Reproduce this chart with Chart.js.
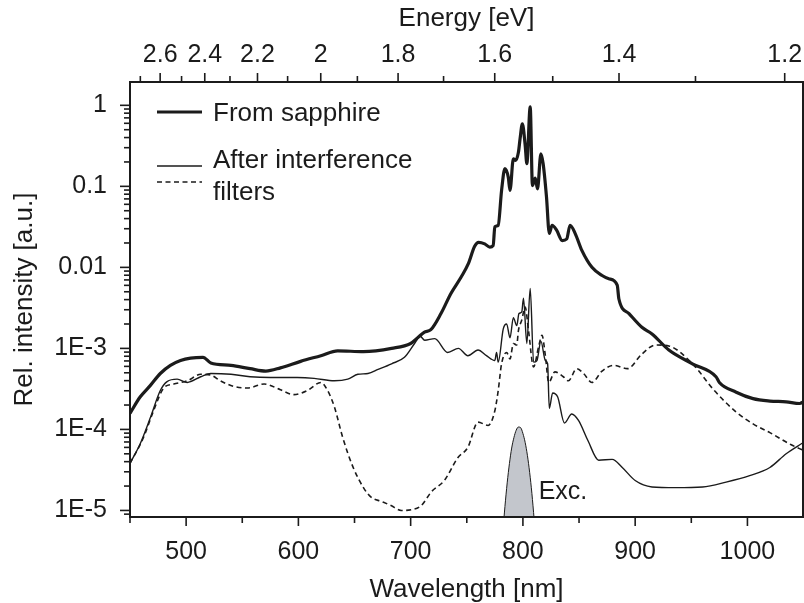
<!DOCTYPE html>
<html>
<head>
<meta charset="utf-8">
<script src="https://cdn.jsdelivr.net/npm/chart.js@4.4.1/dist/chart.umd.min.js"></script>
<style>
  html, body { margin: 0; padding: 0; background: #fff; }
  #wrap { width: 804px; height: 603px; }
</style>
</head>
<body>
<div id="wrap"><canvas id="c" width="804" height="603"></canvas></div>
<script>
const FONT = "'Liberation Sans', Arial, sans-serif";
const INK = '#1b1b1b';
const HC = 1239.84; // eV * nm

// axis ticks
const wlMajor = [500, 600, 700, 800, 900, 1000];
const wlMinor = [450, 550, 650, 750, 850, 950, 1050];
const evMajor = [2.6, 2.4, 2.2, 2, 1.8, 1.6, 1.4, 1.2];
const evMinor = [2.7, 2.5, 2.3, 2.1, 1.9, 1.7, 1.5, 1.3];
const decades = [1e-5, 1e-4, 1e-3, 0.01, 0.1, 1];
const decadeLabels = ['1E-5', '1E-4', '1E-3', '0.01', '0.1', '1'];
const yMin = 8.3e-6, yMax = 1.94;
const wlMin = 450, wlMax = 1049.5;

// white light from sapphire
const sapphireWl = [450, 459, 468, 477, 486, 495, 504, 515, 522, 540, 557, 571, 584, 602, 620, 635, 658, 683,
  700, 707, 712, 718, 727, 736, 745, 751.5, 757, 760.5, 766, 770.5, 773.5, 775, 778, 781, 784, 787, 788.5,
  791.5, 793.5, 796, 797.5, 799.5, 802, 803.5, 806.5, 808.5, 811, 813, 816, 818, 821, 823.5, 826, 830, 835,
  839, 842, 846.5, 852.5, 861.5, 870.5, 876.5, 884, 885.5, 894.5, 906, 915, 930, 951, 972, 975, 990, 1005,
  1020, 1034.5, 1046.5, 1050];
const sapphireI = [1.58e-4, 2.51e-4, 3.47e-4, 4.90e-4, 6.17e-4, 7.08e-4, 7.59e-4, 7.76e-4, 6.61e-4, 6.17e-4,
  5.62e-4, 5.25e-4, 5.75e-4, 6.92e-4, 8.13e-4, 9.33e-4, 9.12e-4, 1.0e-3,
  1.15e-3, 1.38e-3, 1.58e-3, 1.70e-3, 2.69e-3, 4.79e-3, 7.59e-3, 1.12e-2, 1.82e-2, 2.04e-2, 1.95e-2, 1.78e-2,
  1.86e-2, 3.16e-2, 3.31e-2, 8.91e-2, 0.166, 0.129, 8.91e-2,
  0.219, 0.209, 0.263, 0.389, 0.589, 0.324, 0.191, 0.955, 0.102, 0.126, 9.33e-2, 0.251, 0.191, 7.41e-2,
  2.63e-2, 3.31e-2, 2.88e-2, 2.14e-2,
  2.24e-2, 3.31e-2, 2.63e-2, 1.62e-2, 1.0e-2, 7.94e-3, 7.24e-3, 6.03e-3, 4.07e-3, 2.69e-3, 1.82e-3, 1.51e-3,
  9.55e-4, 6.46e-4, 4.47e-4, 3.80e-4, 2.88e-4, 2.40e-4,
  2.24e-4, 2.19e-4, 2.09e-4, 2.19e-4];

// after interference filters, solid
const filterWl = [450, 459, 468, 477, 483, 492, 501, 513, 522, 540, 557, 575, 599, 614, 632, 644, 653, 662,
  671, 683, 694.5, 703.5, 708.5, 712.5, 721.5, 733, 742.5, 751, 760, 767.5, 775, 776.5, 778, 782.5, 785.5,
  788.5, 791.5, 794.5, 796.5, 799, 800.5, 803.5, 806.5, 809.5, 812.5, 816, 820, 822, 823.5, 826.5, 831, 837,
  843.5, 849.5, 858, 867.5, 879.5, 888.5, 900, 915, 936, 960, 981, 1002, 1020, 1034.5, 1050];
const filterI = [3.80e-5, 6.61e-5, 1.38e-4, 3.02e-4, 3.89e-4, 4.17e-4, 3.80e-4, 4.47e-4, 4.90e-4, 4.79e-4,
  4.47e-4, 4.37e-4, 4.37e-4, 4.27e-4, 3.98e-4, 4.17e-4, 4.79e-4, 4.90e-4,
  5.50e-4, 6.46e-4, 7.76e-4, 1.15e-3, 1.41e-3, 1.26e-3, 1.32e-3, 8.91e-4, 1.0e-3, 8.13e-4, 9.55e-4, 8.13e-4,
  7.08e-4, 8.91e-4, 6.76e-4, 1.74e-3, 2.00e-3,
  1.35e-3, 2.40e-3, 1.91e-3, 2.69e-3, 2.82e-3, 4.17e-3, 1.15e-3, 5.50e-3, 6.76e-4, 7.08e-4, 1.23e-3, 7.08e-4,
  6.46e-4, 1.82e-4, 2.82e-4, 2.51e-4, 1.20e-4,
  1.55e-4, 1.29e-4, 7.24e-5, 4.17e-5, 4.27e-5, 3.39e-5, 2.34e-5, 1.95e-5, 1.91e-5, 1.95e-5, 2.24e-5, 2.69e-5,
  3.39e-5, 5.01e-5, 6.92e-5];

// after interference filters, dashed
const dashWl = [450, 462, 471, 480, 489, 501, 513, 522, 530.5, 542.5, 554.5, 569.5, 584, 596, 608, 620, 626,
  632, 639.5, 648.5, 658.5, 665, 674, 682.5, 691.5, 700.5, 709.5, 718.5, 730, 742, 751, 760, 769, 775, 778,
  781, 785.5, 788.5, 791.5, 794.5, 796, 799, 802, 805, 809.5, 814, 817, 820, 823, 828.5, 836, 840.5, 848, 854,
  861.5, 870.5, 881, 893, 906, 918, 930, 951, 970.5, 989.5, 1005, 1020, 1039, 1050];
const dashI = [3.80e-5, 7.94e-5, 1.70e-4, 3.24e-4, 3.63e-4, 3.98e-4, 4.79e-4, 4.68e-4, 3.98e-4, 3.39e-4,
  3.24e-4, 3.63e-4, 3.09e-4, 2.69e-4, 3.02e-4, 3.80e-4, 3.02e-4,
  1.91e-4, 7.94e-5, 3.47e-5, 1.86e-5, 1.45e-5, 1.29e-5, 1.15e-5, 1.00e-5, 1.02e-5, 1.15e-5, 1.70e-5, 2.34e-5,
  4.47e-5, 6.03e-5, 1.23e-4, 1.12e-4, 1.70e-4, 3.02e-4,
  6.46e-4, 8.91e-4, 7.41e-4, 1.15e-3, 1.10e-3, 1.66e-3, 2.24e-3, 3.24e-3, 1.66e-3, 5.89e-4, 1.05e-3, 1.45e-3,
  8.13e-4, 3.80e-4, 5.13e-4, 4.47e-4, 3.98e-4, 5.62e-4, 4.90e-4,
  3.80e-4, 5.25e-4, 6.17e-4, 5.62e-4, 8.51e-4, 1.10e-3, 1.07e-3, 6.46e-4, 3.02e-4, 1.66e-4, 1.17e-4, 9.12e-5,
  6.46e-5, 5.50e-5];

// excitation pulse
const excWl = [782, 784, 786, 788, 790, 792, 794, 796, 798, 800, 802, 804, 806, 808, 810, 812];
const excI = [5.2e-6, 1.12e-5, 2.19e-5, 3.80e-5, 5.89e-5, 7.94e-5, 9.77e-5, 1.07e-4, 1.05e-4, 8.91e-5,
  6.92e-5, 4.79e-5, 2.95e-5, 1.62e-5, 7.8e-6, 3.4e-6];

const pts = (xs, ys) => xs.map((x, i) => ({ x, y: ys[i] }));

// frame, outward ticks, legend and titles
const decor = {
  id: 'decor',
  afterDraw(chart) {
    const { ctx, chartArea: a, scales } = chart;
    const line = (x1, y1, x2, y2) => { ctx.beginPath(); ctx.moveTo(x1, y1); ctx.lineTo(x2, y2); ctx.stroke(); };
    ctx.save();
    ctx.strokeStyle = INK;
    ctx.fillStyle = INK;
    ctx.lineWidth = 2;
    ctx.strokeRect(a.left, a.top, a.right - a.left, a.bottom - a.top);

    ctx.lineWidth = 1.6;
    wlMajor.forEach(v => { const x = scales.x.getPixelForValue(v); line(x, a.bottom, x, a.bottom + 9); });
    wlMinor.forEach(v => {
      if (v < wlMin || v > wlMax) return;
      const x = scales.x.getPixelForValue(v);
      line(x, a.bottom, x, a.bottom + 6);
    });
    evMajor.forEach(e => { const x = scales.x2.getPixelForValue(HC / e); line(x, a.top, x, a.top - 9); });
    evMinor.forEach(e => { const x = scales.x2.getPixelForValue(HC / e); line(x, a.top, x, a.top - 6); });
    decades.forEach(v => { const y = scales.y.getPixelForValue(v); line(a.left, y, a.left - 10, y); });
    [1e-6, 1e-5, 1e-4, 1e-3, 1e-2, 0.1, 1].forEach(d => {
      for (let m = 2; m <= 9; m++) {
        const v = m * d;
        if (v < yMin || v > yMax) continue;
        const y = scales.y.getPixelForValue(v);
        line(a.left, y, a.left - 6, y);
      }
    });

    // legend
    const lx = a.left + 27, lw = 45;
    ctx.lineWidth = 3.2;
    line(lx, 112, lx + lw, 112);
    ctx.lineWidth = 1.4;
    line(lx, 166, lx + lw, 166);
    ctx.lineWidth = 1.6;
    ctx.setLineDash([5, 3.5]);
    line(lx, 182, lx + lw, 182);
    ctx.setLineDash([]);
    ctx.font = '26px ' + FONT;
    ctx.textAlign = 'left';
    ctx.textBaseline = 'alphabetic';
    ctx.fillText('From sapphire', lx + 56, 121);
    ctx.fillText('After interference', lx + 56, 168);
    ctx.fillText('filters', lx + 56, 200);

    // excitation label
    ctx.font = '25px ' + FONT;
    ctx.fillText('Exc.', scales.x.getPixelForValue(814), scales.y.getPixelForValue(1.4e-5));

    // axis titles
    ctx.font = '26px ' + FONT;
    ctx.textAlign = 'center';
    const cx = (a.left + a.right) / 2;
    ctx.fillText('Energy [eV]', cx, 26);
    ctx.fillText('Wavelength [nm]', cx, 597);
    ctx.save();
    ctx.translate(32, (a.top + a.bottom) / 2);
    ctx.rotate(-Math.PI / 2);
    ctx.fillText('Rel. intensity [a.u.]', 0, 0);
    ctx.restore();
    ctx.restore();
  }
};

const tickFont = { family: FONT, size: 25 };

// edge labels may hang past the plot edge, so drop the side padding Chart.js reserves for them
const noSidePad = s => { s.paddingLeft = 0; s.paddingRight = 0; };

new Chart(document.getElementById('c'), {
  type: 'line',
  data: {
    datasets: [
      { label: 'From sapphire', data: pts(sapphireWl, sapphireI), borderColor: INK, borderWidth: 3.2, order: 1 },
      { label: 'After interference filters', data: pts(filterWl, filterI), borderColor: INK, borderWidth: 1.4, order: 2 },
      { label: 'After interference filters (dashed)', data: pts(dashWl, dashI), borderColor: INK, borderWidth: 1.6,
        borderDash: [5, 3.5], order: 3 },
      { label: 'Exc.', data: pts(excWl, excI), borderColor: INK, borderWidth: 1, backgroundColor: '#c3c6cc',
        fill: 'start', order: 4 }
    ]
  },
  options: {
    responsive: false,
    animation: false,
    layout: { padding: { left: 0, right: 1, top: 0, bottom: 0 } },
    elements: {
      point: { radius: 0 },
      line: { cubicInterpolationMode: 'monotone' }
    },
    plugins: { legend: { display: false }, tooltip: { enabled: false } },
    scales: {
      x: {
        type: 'linear', position: 'bottom', min: wlMin, max: wlMax,
        grid: { display: false, drawTicks: false }, border: { display: false },
        afterBuildTicks: s => { s.ticks = wlMajor.map(v => ({ value: v })); },
        afterFit: s => { s.height = 86; noSidePad(s); },
        ticks: { font: tickFont, color: INK, padding: 20, autoSkip: false, maxRotation: 0, callback: v => String(v) }
      },
      x2: {
        type: 'linear', position: 'top', min: wlMin, max: wlMax,
        grid: { display: false, drawTicks: false }, border: { display: false },
        afterBuildTicks: s => { s.ticks = evMajor.map(e => ({ value: HC / e })); },
        afterFit: s => { s.height = 82; noSidePad(s); },
        ticks: { font: tickFont, color: INK, padding: 12, autoSkip: false, maxRotation: 0,
          callback: (v, i) => String(evMajor[i]) }
      },
      y: {
        type: 'logarithmic', position: 'left', min: yMin, max: yMax,
        grid: { display: false, drawTicks: false }, border: { display: false },
        afterBuildTicks: s => { s.ticks = decades.map(v => ({ value: v })); },
        afterFit: s => { s.width = 130; s.paddingTop = 0; s.paddingBottom = 0; },
        ticks: { font: tickFont, color: INK, padding: 23, autoSkip: false, callback: (v, i) => decadeLabels[i] }
      }
    }
  },
  plugins: [decor]
});
</script>
</body>
</html>
